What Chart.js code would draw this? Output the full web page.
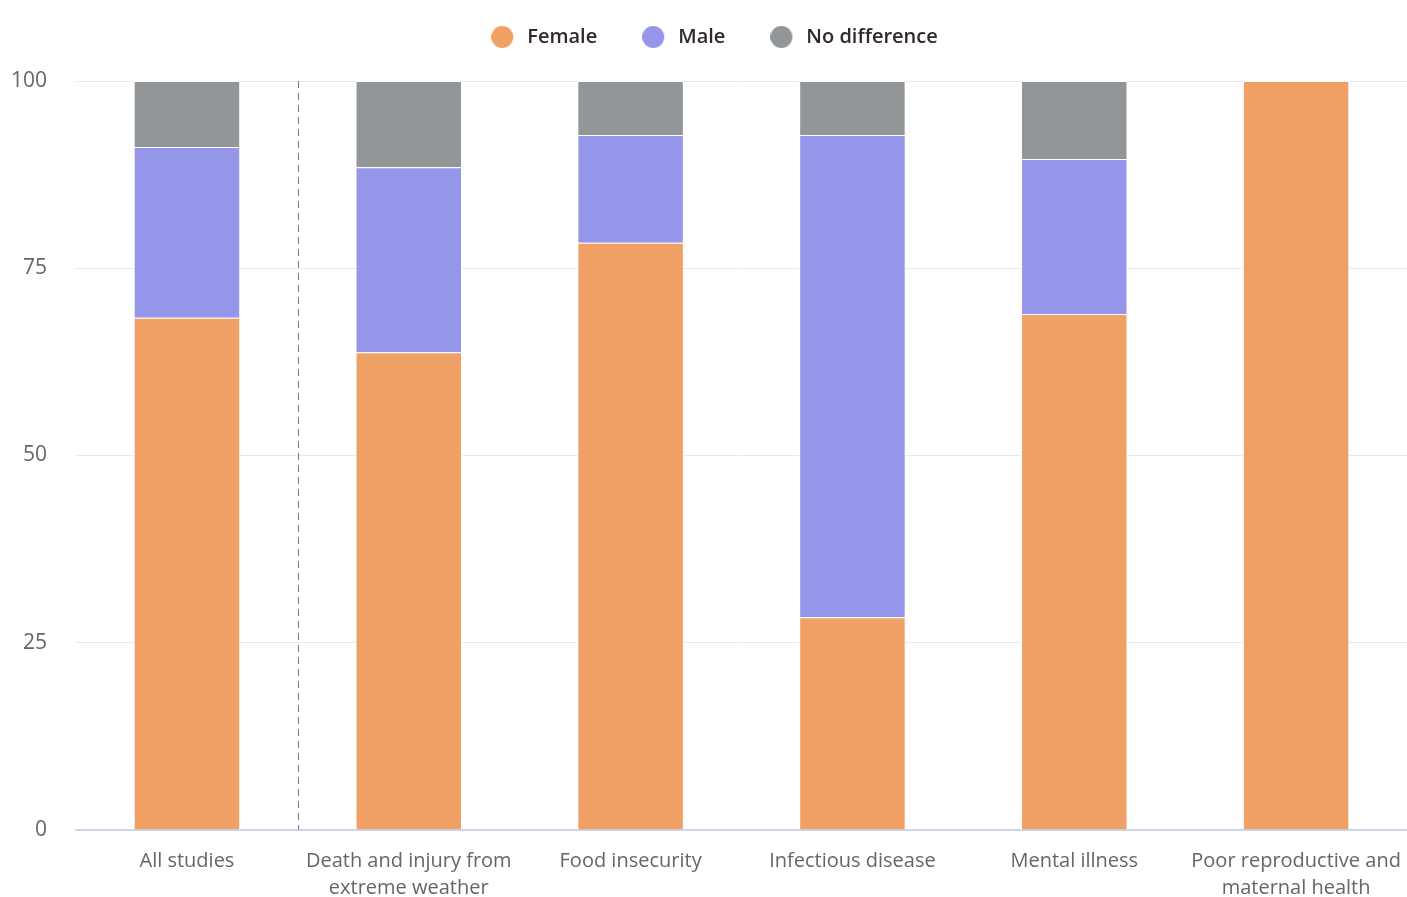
<!DOCTYPE html>
<html>
<head>
<meta charset="utf-8">
<script src="https://cdn.jsdelivr.net/npm/chart.js@4"></script>
<style>
  html, body { margin: 0; padding: 0; background: #fff; }
  #wrap { width: 1407px; height: 897px; }
</style>
</head>
<body>
<div id="wrap"><canvas id="chart"></canvas></div>
<script>
// categorias e valores (percentuais)
var categories = [
  "All studies",
  ["Death and injury from", "extreme weather"],
  "Food insecurity",
  "Infectious disease",
  "Mental illness",
  ["Poor reproductive and", "maternal health"]
];
var female = [68.4, 63.8, 78.4, 28.4, 68.9, 100];
var male = [22.8, 24.7, 14.4, 64.4, 20.7, 0];
var noDifference = [8.8, 11.5, 7.2, 7.2, 10.4, 0];
var yTicks = [0, 25, 50, 75, 100];

var cores = ["#f1a065", "#9595ea", "#939698"];

/**
 * Cria o marcador circular da legenda (círculo deslocado à esquerda)
 */
function criarMarcador(cor) {
  var c = document.createElement("canvas");
  c.width = 32;
  c.height = 22;
  var g = c.getContext("2d");
  g.fillStyle = cor;
  g.beginPath();
  g.arc(11, 11, 11, 0, Math.PI * 2);
  g.fill();
  return c;
}
var marcadores = cores.map(criarMarcador);

/**
 * Linha tracejada separando "All studies" das demais categorias
 */
var dividerPlugin = {
  id: "divider",
  beforeDatasetsDraw: function (chart) {
    var x = chart.scales.x;
    var y = chart.scales.y;
    var px = Math.round((x.getPixelForValue(0) + x.getPixelForValue(1)) / 2) + 0.5;
    var ctx = chart.ctx;
    ctx.save();
    ctx.strokeStyle = "#7a7a7a";
    ctx.lineWidth = 1;
    ctx.setLineDash([7, 5]);
    ctx.beginPath();
    ctx.moveTo(px, y.getPixelForValue(100));
    ctx.lineTo(px, y.getPixelForValue(0));
    ctx.stroke();
    ctx.restore();
  }
};

/**
 * Ajusta altura e posição horizontal da legenda
 */
var legendSpacePlugin = {
  id: "legendSpace",
  beforeLayout: function (chart) {
    var lg = chart.legend;
    if (lg && !lg._ajustado) {
      var fitOriginal = lg.fit;
      lg.fit = function () {
        fitOriginal.call(this);
        this.height += 24;
      };
      lg._ajustado = true;
    }
  },
  afterLayout: function (chart) {
    var lg = chart.legend;
    if (lg) {
      lg.left += 23;
      lg.right += 23;
    }
  }
};

document.addEventListener("DOMContentLoaded", function () {
  var ctx = document.getElementById("chart").getContext("2d");

  new Chart(ctx, {
    type: "bar",
    data: {
      labels: categories,
      datasets: [
        {
          label: "Female",
          data: female,
          backgroundColor: cores[0],
          borderColor: "#ffffff",
          borderWidth: 1
        },
        {
          label: "Male",
          data: male,
          backgroundColor: cores[1],
          borderColor: "#ffffff",
          borderWidth: 1
        },
        {
          label: "No difference",
          data: noDifference,
          backgroundColor: cores[2],
          borderColor: "#ffffff",
          borderWidth: 1
        }
      ]
    },
    options: {
      responsive: true,
      maintainAspectRatio: false,
      animation: false,
      layout: { padding: { left: -18, right: 0, top: -24, bottom: -15 } },
      datasets: {
        bar: { categoryPercentage: 1, barPercentage: 0.48 }
      },
      scales: {
        x: {
          stacked: true,
          grid: { display: false },
          border: { display: true, color: "#ccd6eb", width: 2 },
          afterFit: function (scale) {
            scale.paddingRight = 0;
          },
          ticks: {
            color: "#666666",
            font: { family: "'Open Sans'", size: 20, lineHeight: 1.35 },
            padding: 10,
            maxRotation: 0,
            autoSkip: false
          }
        },
        y: {
          stacked: true,
          min: 0,
          max: 100,
          afterBuildTicks: function (axis) {
            axis.ticks = yTicks.map(function (v) { return { value: v }; });
          },
          grid: { color: "#e6e9ee", drawTicks: false },
          border: { display: false },
          ticks: {
            color: "#666666",
            font: { family: "'Open Sans'", size: 21 },
            padding: 29
          }
        }
      },
      plugins: {
        legend: {
          position: "top",
          labels: {
            usePointStyle: true,
            boxHeight: 20,
            boxWidth: 20,
            padding: 51,
            color: "#33272f",
            font: { family: "'Open Sans'", size: 20, weight: "600" },
            generateLabels: function (chart) {
              var itens = Chart.defaults.plugins.legend.labels.generateLabels(chart);
              itens.forEach(function (item, i) {
                item.pointStyle = marcadores[i];
              });
              return itens;
            }
          }
        },
        tooltip: { enabled: false }
      }
    },
    plugins: [dividerPlugin, legendSpacePlugin]
  });
});
</script>
</body>
</html>
